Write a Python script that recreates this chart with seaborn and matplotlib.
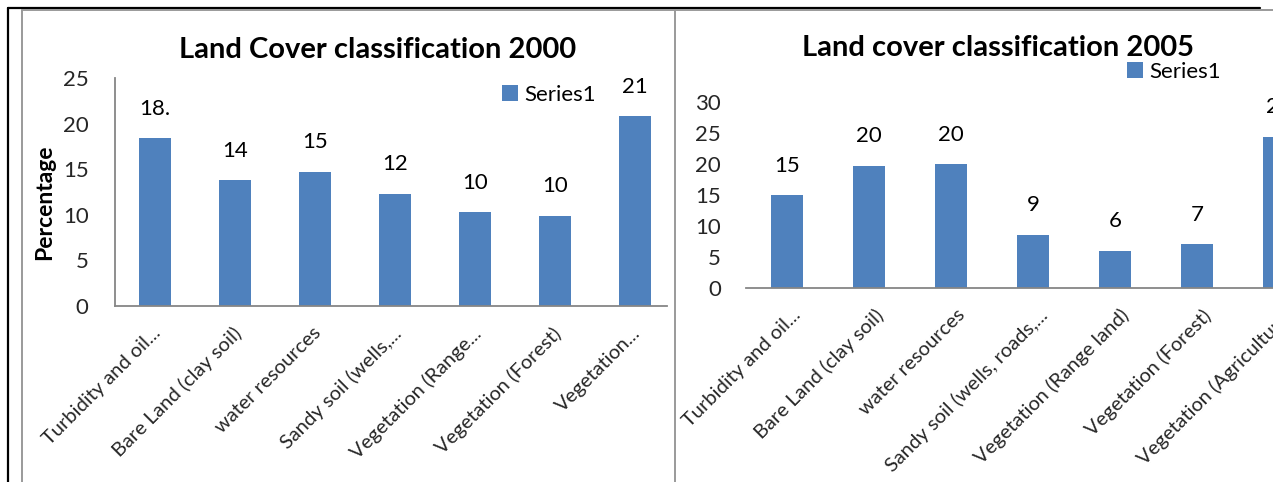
"""Land cover classification bar charts (2000 vs 2005), Excel-style."""
import matplotlib
matplotlib.use("Agg")
import matplotlib.pyplot as plt
import matplotlib.transforms as mtransforms
from matplotlib.lines import Line2D
import seaborn as sns

# Data
categories_2000 = ["Turbidity and oil...", "Bare Land (clay soil)", "water resources",
                   "Sandy soil (wells,...", "Vegetation (Range...", "Vegetation (Forest)",
                   "Vegetation..."]
values_2000 = [18.4, 13.8, 14.7, 12.3, 10.3, 9.9, 20.8]
labels_2000 = ["18.", "14", "15", "12", "10", "10", "21"]

categories_2005 = ["Turbidity and oil...", "Bare Land (clay soil)", "water resources",
                   "Sandy soil (wells, roads,...", "Vegetation (Range land)",
                   "Vegetation (Forest)", "Vegetation (Agriculture)"]
values_2005 = [15.0, 19.7, 20.0, 8.6, 6.0, 7.1, 24.4]
labels_2005 = ["15", "20", "20", "9", "6", "7", "24"]

BLUE = "#4F81BD"
AXIS_GREY = "#868686"
FONT = ["Lato", "DejaVu Sans"]

sns.set_style("white")
plt.rcParams["font.family"] = FONT
plt.rcParams["text.color"] = "black"

W, H = 1273, 482
fig = plt.figure(figsize=(W / 100, H / 100), dpi=100)
fig.patch.set_facecolor("white")


def px_axes(x0, y0, x1, y1):
    """Axes from image pixel box (top-left origin)."""
    return fig.add_axes([x0 / W, 1 - y1 / H, (x1 - x0) / W, (y1 - y0) / H])


def draw_panel(ax, cats, vals, labels, ymax, show_left, xmax, ypad, xshift):
    sns.barplot(x=cats, y=vals, color=BLUE, saturation=1, width=0.4,
                linewidth=0, ax=ax, label="Series1")
    ax.set_xlim(-0.5, xmax)
    ax.set_ylim(0, ymax)
    ax.set_yticks(range(0, ymax + 1, 5))
    ax.set_xlabel("")
    ax.set_ylabel("")
    ax.bar_label(ax.containers[0], labels=labels, padding=14, fontsize=16)
    for side in ["top", "right"]:
        ax.spines[side].set_visible(False)
    ax.spines["left"].set_visible(show_left)
    for side in ["left", "bottom"]:
        ax.spines[side].set_color(AXIS_GREY)
        ax.spines[side].set_linewidth(1.3)
    ax.tick_params(axis="y", length=0, pad=ypad, labelsize=16)
    ax.tick_params(axis="x", length=0, pad=13, labelsize=14.5)
    shift = mtransforms.ScaledTranslation(xshift / 100, 0, fig.dpi_scale_trans)
    for lab in ax.get_xticklabels():
        lab.set_rotation(45)
        lab.set_ha("right")
        lab.set_va("top")
        lab.set_rotation_mode("anchor")
        lab.set_transform(lab.get_transform() + shift)
    ax.set_facecolor("none")


# Left chart (2000)
ax1 = px_axes(115, 78, 667, 306)
draw_panel(ax1, categories_2000, values_2000, labels_2000, 25, True, 6.4, 19, -3)
ax1.legend(loc="center left", bbox_to_anchor=(502 / W, 1 - 95 / H),
           bbox_transform=fig.transFigure, frameon=False, fontsize=16,
           handlelength=0.7, handleheight=0.7, handletextpad=0.3,
           borderpad=0, borderaxespad=0)
fig.text(378 / W, 1 - 50 / H, "Land Cover classification 2000", ha="center",
         va="center", fontsize=21, fontweight="bold")
fig.text(45 / W, 1 - 202 / H, "Percentage", ha="center", va="center",
         rotation=90, fontsize=16.5, fontweight="bold")

# Right chart (2005), extends past the right edge as in the reference
ax2 = px_axes(746, 102, 1320, 288)
draw_panel(ax2, categories_2005, values_2005, labels_2005, 30, False, 6.5, 18, 5)
ax2.legend(loc="center left", bbox_to_anchor=(1127 / W, 1 - 72 / H),
           bbox_transform=fig.transFigure, frameon=False, fontsize=16,
           handlelength=0.7, handleheight=0.7, handletextpad=0.3,
           borderpad=0, borderaxespad=0)
fig.text(998 / W, 1 - 48 / H, "Land cover classification 2005", ha="center",
         va="center", fontsize=21, fontweight="bold")


# Panel frames (black outer, grey chart borders)
def fig_line(xs, ys, color, lw):
    fig.add_artist(Line2D([x / W for x in xs], [1 - y / H for y in ys],
                          transform=fig.transFigure, color=color, lw=lw))


fig_line([8, 8], [8, 482], "black", 1.6)
fig_line([8, 1260], [8, 8], "black", 1.6)
fig_line([22, 22], [10, 482], "#9a9a9a", 1.4)
fig_line([22, 1273], [10, 10], "#9a9a9a", 1.4)
fig_line([675, 675], [10, 482], "#9a9a9a", 1.4)

plt.savefig("out.png", dpi=100, facecolor="white")
plt.close()
